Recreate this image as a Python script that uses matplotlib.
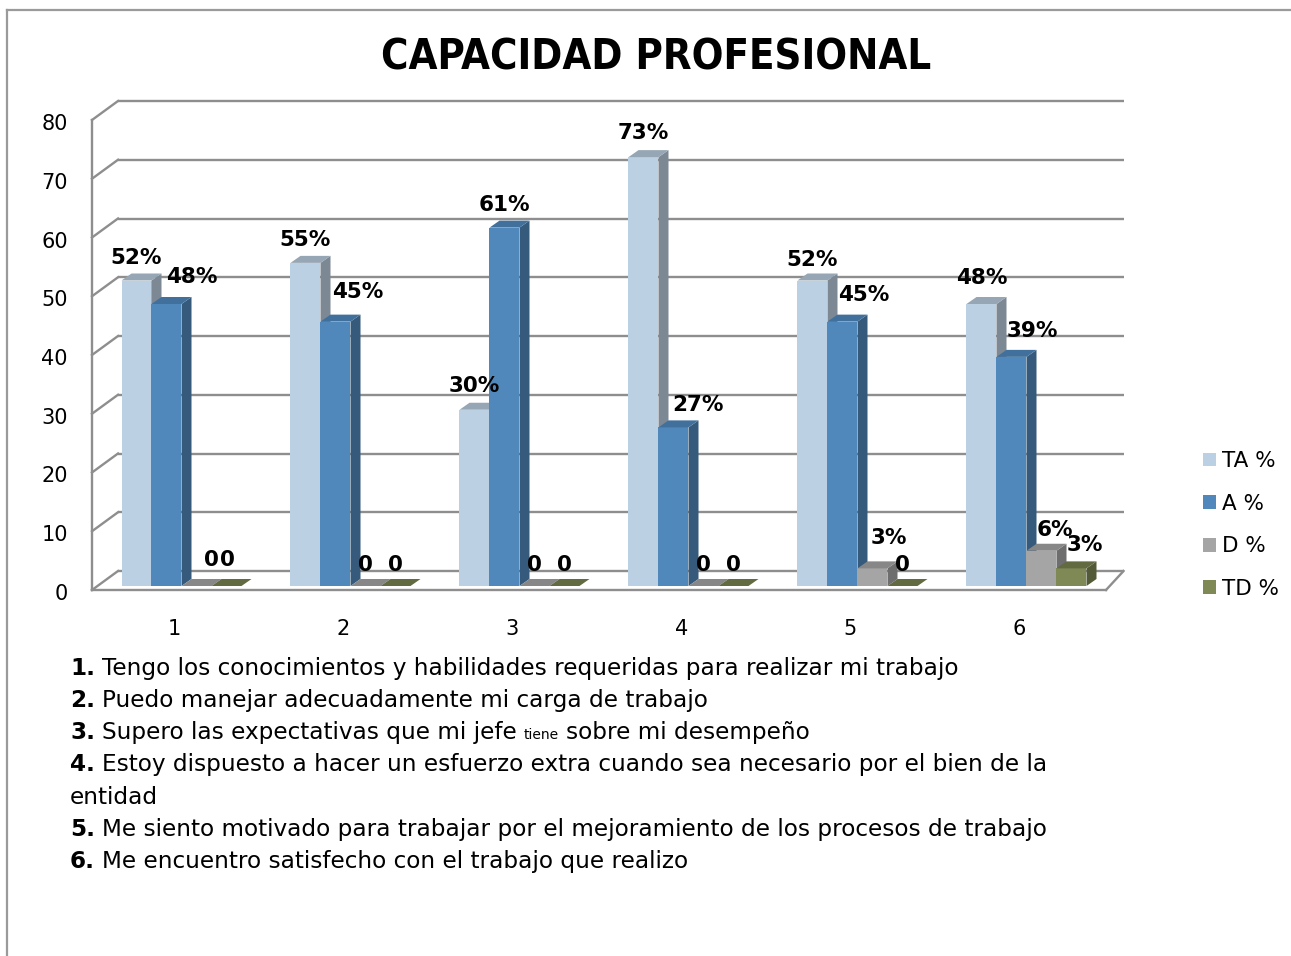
import matplotlib
matplotlib.use("Agg")
import matplotlib.pyplot as plt
from matplotlib.patches import Polygon
from matplotlib.lines import Line2D

# ---------------- data ----------------
categories = ["1", "2", "3", "4", "5", "6"]
series_names = ["TA %", "A %", "D %", "TD %"]
ta_values = [52, 55, 30, 73, 52, 48]
a_values = [48, 45, 61, 27, 45, 39]
d_values = [0, 0, 0, 0, 3, 6]
td_values = [0, 0, 0, 0, 0, 3]
ta_labels = ["52%", "55%", "30%", "73%", "52%", "48%"]
a_labels = ["48%", "45%", "61%", "27%", "45%", "39%"]
d_labels = ["0", "0", "0", "0", "3%", "6%"]
td_labels = ["0", "0", "0", "0", "0", "3%"]
y_ticks = [0, 10, 20, 30, 40, 50, 60, 70, 80]
title_text = "CAPACIDAD PROFESIONAL"
note_numbers = ["1.", "2.", "3.", "4.", "5.", "6."]
note_texts = [
    "Tengo los conocimientos y habilidades requeridas para realizar mi trabajo",
    "Puedo manejar adecuadamente mi carga de trabajo",
    ["Supero las expectativas que mi jefe", "tiene", "sobre mi desempeño"],
    ["Estoy dispuesto a hacer un esfuerzo extra cuando sea necesario por el bien de la", "entidad"],
    "Me siento motivado para trabajar por el mejoramiento de los procesos de trabajo",
    "Me encuentro satisfecho con el trabajo que realizo",
]

# ---------------- style ----------------
front_colors = ["#bcd0e3", "#5088bb", "#a5a5a5", "#7f8955"]
side_colors = ["#7c8893", "#355a7b", "#6e6e6e", "#535a37"]
top_colors = ["#96a6b4", "#41709c", "#878787", "#626a42"]
grid_color = "#8e8e8e"
FONT = "DejaVu Sans"

# label offsets in pixels (dx, dy above bar top)
label_offsets = [
    [(0, 23), (0, 23), (0, 24), (0, 24), (0, 21), (0, 26)],
    [(25, 27), (22, 30), (0, 23), (24, 22), (21, 27), (21, 26)],
    [(15, 26), (0, 21), (0, 21), (0, 21), (16, 30), (13, 21)],
    [(1, 26), (0, 21), (0, 21), (0, 21), (0, 21), (13, 23)],
]

W, H = 1291, 956
fig = plt.figure(figsize=(W / 100, H / 100), dpi=100)
fig.patch.set_facecolor("white")

# outer border
fig.add_artist(Line2D([7 / W, 7 / W], [0, 1 - 10 / H], color="#9a9a9a", lw=1.6))
fig.add_artist(Line2D([7 / W, 1], [1 - 10 / H, 1 - 10 / H], color="#9a9a9a", lw=1.6))

# axes = bar plane
ax_left, ax_bottom, ax_w, ax_h = 97, 586, 1014, 470
ax = fig.add_axes([ax_left / W, (H - ax_bottom) / H, ax_w / W, ax_h / H])
ax.set_xlim(-0.5, len(categories) - 0.5)
ax.set_ylim(0, 80)
ax.axis("off")

PX = ax_w / len(categories)   # pixels per x unit
PY = ax_h / 80.0              # pixels per y unit


def off(px, py):
    return px / PX, py / PY


bx, by = off(21, 15)     # back wall offset
fx, fy = off(-5, -4)     # front plane offset
ddx, ddy = off(10, 7)    # bar depth
x0, x1 = -0.5, len(categories) - 0.5
x1b = x1 - 0.05

lw = 1.7
for v in y_ticks:
    ax.plot([x0 + bx, x1b + bx], [v + by, v + by], color=grid_color, lw=lw,
            clip_on=False, zorder=1, solid_capstyle="butt")
    ax.plot([x0 + fx, x0 + bx], [v + fy, v + by], color=grid_color, lw=lw,
            clip_on=False, zorder=1)
ax.plot([x0 + fx, x0 + fx], [fy, 80 + fy], color=grid_color, lw=lw, clip_on=False, zorder=1)
ax.plot([x0 + fx, x1 + fx], [fy, fy], color=grid_color, lw=lw, clip_on=False, zorder=2)
ax.plot([x1 + fx, x1b + bx], [fy, by], color=grid_color, lw=lw, clip_on=False, zorder=2)

# y tick labels
for v in y_ticks:
    ax.annotate(str(v), xy=(x0 + fx, v + fy), xytext=(-24, -4), textcoords="offset pixels",
                ha="right", va="center", fontsize=15, family=FONT, annotation_clip=False)
# x tick labels
for i, c in enumerate(categories):
    ax.annotate(c, xy=(i + fx, fy), xytext=(-2, -39), textcoords="offset pixels",
                ha="center", va="center", fontsize=15, family=FONT, annotation_clip=False)

# bars
series_vals = [ta_values, a_values, d_values, td_values]
series_labels = [ta_labels, a_labels, d_labels, td_labels]
w = 30 / PX
handles = []
for s, vals in enumerate(series_vals):
    xs = [i + (s - 1.5) * w for i in range(len(categories))]
    z = 3 + s
    bc = ax.bar(xs, vals, width=w, color=front_colors[s], linewidth=0,
                zorder=z, label=series_names[s], clip_on=False)
    handles.append(bc)
    for xc, v in zip(xs, vals):
        xl, xr = xc - w / 2, xc + w / 2
        if v > 0:
            side = Polygon([(xr, 0), (xr + ddx, ddy), (xr + ddx, v + ddy), (xr, v)],
                           closed=True, facecolor=side_colors[s], edgecolor="none",
                           zorder=z, clip_on=False)
            ax.add_patch(side)
        top = Polygon([(xl, v), (xr, v), (xr + ddx, v + ddy), (xl + ddx, v + ddy)],
                      closed=True, facecolor=top_colors[s], edgecolor="none",
                      zorder=z, clip_on=False)
        ax.add_patch(top)
    for i, (xc, v) in enumerate(zip(xs, vals)):
        dx, dy = label_offsets[s][i]
        ax.annotate(series_labels[s][i], xy=(xc, v), xytext=(dx, dy),
                    textcoords="offset pixels", ha="center", va="center",
                    fontsize=15.5, fontweight="bold", family=FONT,
                    zorder=20, annotation_clip=False)

# legend
leg = fig.legend(handles, series_names, loc="center left",
                 bbox_to_anchor=(1203 / W, 1 - 525 / H), frameon=False,
                 prop={"family": FONT, "size": 15.5}, handlelength=0.6,
                 handleheight=0.6, labelspacing=1.05, handletextpad=0.3,
                 borderaxespad=0, borderpad=0)

# title
fig.text(656 / W, 1 - 57 / H, title_text, ha="center", va="center",
         fontsize=30, fontweight="bold", family=FONT, fontstretch="condensed")

# notes below
line_y = [668, 700, 732, 764, 829, 861]
fs = 16.7
for k, (num, txt) in enumerate(zip(note_numbers, note_texts)):
    yb = 1 - (line_y[k] + 7) / H
    t0 = fig.text(70 / W, yb, num, ha="left", va="baseline", fontsize=fs,
                  fontweight="bold", family=FONT)
    if isinstance(txt, str):
        pieces = [(txt, fs)]
    elif k == 2:
        pieces = [(txt[0], fs), (txt[1], 10), (txt[2], fs)]
    else:
        pieces = [(txt[0], fs)]
    prev = t0
    for ptxt, pfs in pieces:
        prev = plt.annotate(
            ptxt, xy=(1, yb), xycoords=(prev, fig.transFigure),
            xytext=(7, 0), textcoords="offset pixels", ha="left", va="baseline",
            fontsize=pfs, family=FONT, annotation_clip=False)
    if k == 3:
        fig.text(70 / W, 1 - (797 + 7) / H, txt[1], ha="left", va="baseline",
                 fontsize=fs, family=FONT)

fig.savefig("out.png", dpi=100, facecolor="white")
